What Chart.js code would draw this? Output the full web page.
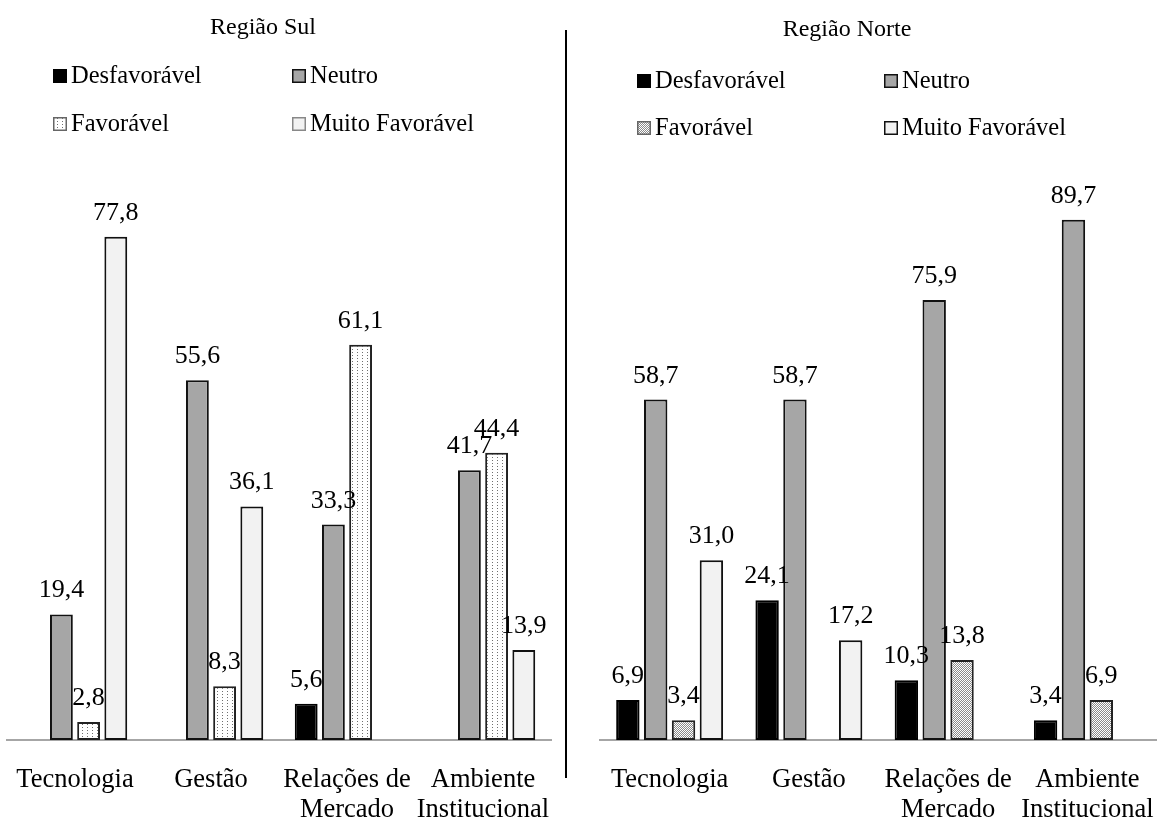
<!DOCTYPE html>
<html>
<head>
<meta charset="utf-8">
<script src="https://cdn.jsdelivr.net/npm/chart.js@4.4.1/dist/chart.umd.min.js"></script>
<style>
  html, body { margin: 0; padding: 0; background: #fff; overflow: hidden; }
  body { width: 1157px; height: 820px; position: relative; font-family: 'Liberation Serif', serif; }
  #sul { position: absolute; left: 0; top: 0; }
  #norte { position: absolute; left: 575px; top: 0; }
  #divider { position: absolute; left: 565px; top: 30px; width: 2px; height: 748px; background: #000; }
</style>
</head>
<body>
<canvas id="sul" width="560" height="820"></canvas>
<div id="divider"></div>
<canvas id="norte" width="582" height="820"></canvas>
<script>
// categories and series
const categories = ['Tecnologia', 'Gestão', ['Relações de', 'Mercado'], ['Ambiente', 'Institucional']];
const seriesNames = ['Desfavorável', 'Neutro', 'Favorável', 'Muito Favorável'];

// Região Sul (%)
const sulDesfavoravel = [null, null, 5.6, null];
const sulNeutro = [19.4, 55.6, 33.3, 41.7];
const sulFavoravel = [2.8, 8.3, 61.1, 44.4];
const sulMuitoFavoravel = [77.8, 36.1, null, 13.9];

// Região Norte (%)
const norteDesfavoravel = [6.9, 24.1, 10.3, 3.4];
const norteNeutro = [58.7, 58.7, 75.9, 89.7];
const norteFavoravel = [3.4, null, 13.8, 6.9];
const norteMuitoFavoravel = [31.0, 17.2, null, null];

const SERIF = '"Liberation Serif", "DejaVu Serif", serif';
Chart.defaults.font.family = SERIF;
Chart.defaults.color = '#000';

function dotted(canvasId, w, h, bg, dot, cells) {
  const tile = document.createElement('canvas');
  tile.width = w; tile.height = h;
  const g = tile.getContext('2d');
  g.fillStyle = bg;
  g.fillRect(0, 0, w, h);
  g.fillStyle = dot;
  cells.forEach(c => g.fillRect(c[0], c[1], 1, 1));
  return document.getElementById(canvasId).getContext('2d').createPattern(tile, 'repeat');
}

// value labels above bars, comma decimals
const valueLabels = {
  id: 'valueLabels',
  afterDatasetsDraw(chart) {
    const ctx = chart.ctx;
    ctx.save();
    ctx.font = '26px ' + SERIF;
    ctx.fillStyle = '#000';
    ctx.textAlign = 'center';
    ctx.textBaseline = 'alphabetic';
    chart.data.datasets.forEach((ds, i) => {
      chart.getDatasetMeta(i).data.forEach((bar, j) => {
        const v = ds.data[j];
        if (v == null) return;
        ctx.fillText(v.toFixed(1).replace('.', ','), bar.x, bar.y - 17);
      });
    });
    ctx.restore();
  }
};

// title + two-column legend
const panelHeader = {
  id: 'panelHeader',
  afterDraw(chart, args, opts) {
    const ctx = chart.ctx;
    ctx.save();
    ctx.fillStyle = '#000';
    ctx.font = '24px ' + SERIF;
    ctx.textAlign = 'center';
    ctx.textBaseline = 'middle';
    ctx.fillText(opts.title, opts.titleX, opts.titleY);
    ctx.font = '24.5px ' + SERIF;
    ctx.textAlign = 'left';
    chart.data.datasets.forEach((ds, i) => {
      const x = opts.cols[i % 2], y = opts.rows[Math.floor(i / 2)];
      ctx.fillStyle = ds.backgroundColor;
      ctx.fillRect(x, y - 7, 14, 14);
      ctx.strokeStyle = ds.legendBorder;
      ctx.lineWidth = 1.5;
      ctx.strokeRect(x + 0.75, y - 6.25, 12.5, 12.5);
      ctx.fillStyle = '#000';
      ctx.fillText(ds.label, x + 18, y + 1);
    });
    ctx.restore();
  }
};

function makeChart(id, series, favPattern, mfLegendBorder, yMax, pad, header) {
  const styles = [
    { bg: '#000000', border: '#000000', legend: '#000000' },
    { bg: '#a6a6a6', border: '#111111', legend: '#111111' },
    { bg: favPattern, border: '#222222', legend: '#666666' },
    { bg: '#f2f2f2', border: '#111111', legend: mfLegendBorder }
  ];
  return new Chart(document.getElementById(id), {
    type: 'bar',
    data: {
      labels: categories,
      datasets: series.map((vals, i) => ({
        label: seriesNames[i],
        data: vals,
        backgroundColor: styles[i].bg,
        borderColor: styles[i].border,
        legendBorder: styles[i].legend,
        borderWidth: 2,
        borderSkipped: false,
        categoryPercentage: 0.8,
        barPercentage: 0.84
      }))
    },
    options: {
      responsive: false,
      animation: false,
      devicePixelRatio: 1,
      layout: { padding: pad },
      plugins: {
        legend: { display: false },
        tooltip: { enabled: false },
        panelHeader: header
      },
      scales: {
        x: {
          grid: { display: false, drawTicks: false },
          border: { display: true, color: '#a6a6a6', width: 2 },
          ticks: {
            autoSkip: false,
            maxRotation: 0,
            padding: 25,
            font: { size: 26.5, lineHeight: '30px' },
            color: '#000'
          },
          afterFit(scale) {
            scale.height = 80;
            scale.paddingLeft = 0;
            scale.paddingRight = 0;
          }
        },
        y: { display: false, min: 0, max: yMax }
      }
    },
    plugins: [valueLabels, panelHeader]
  });
}

function build() {
  const sulFav = dotted('sul', 5, 3, '#ffffff', '#707070', [[2, 1]]);
  const norteFav = dotted('norte', 2, 2, '#ffffff', '#8a8a8a', [[0, 0], [1, 1]]);

  makeChart('sul',
    [sulDesfavoravel, sulNeutro, sulFavoravel, sulMuitoFavoravel],
    sulFav, '#888888', 88.1,
    { top: 170, left: 7, right: 9, bottom: 0 },
    { title: 'Região Sul', titleX: 263, titleY: 28, cols: [53, 292], rows: [76, 124] });

  makeChart('norte',
    [norteDesfavoravel, norteNeutro, norteFavoravel, norteMuitoFavoravel],
    norteFav, '#111111', 98.3,
    { top: 170, left: 25, right: 0, bottom: 0 },
    { title: 'Região Norte', titleX: 272, titleY: 30, cols: [62, 309], rows: [81, 128] });
}

document.fonts.load('24px "Liberation Serif"').then(build, build);
</script>
</body>
</html>
